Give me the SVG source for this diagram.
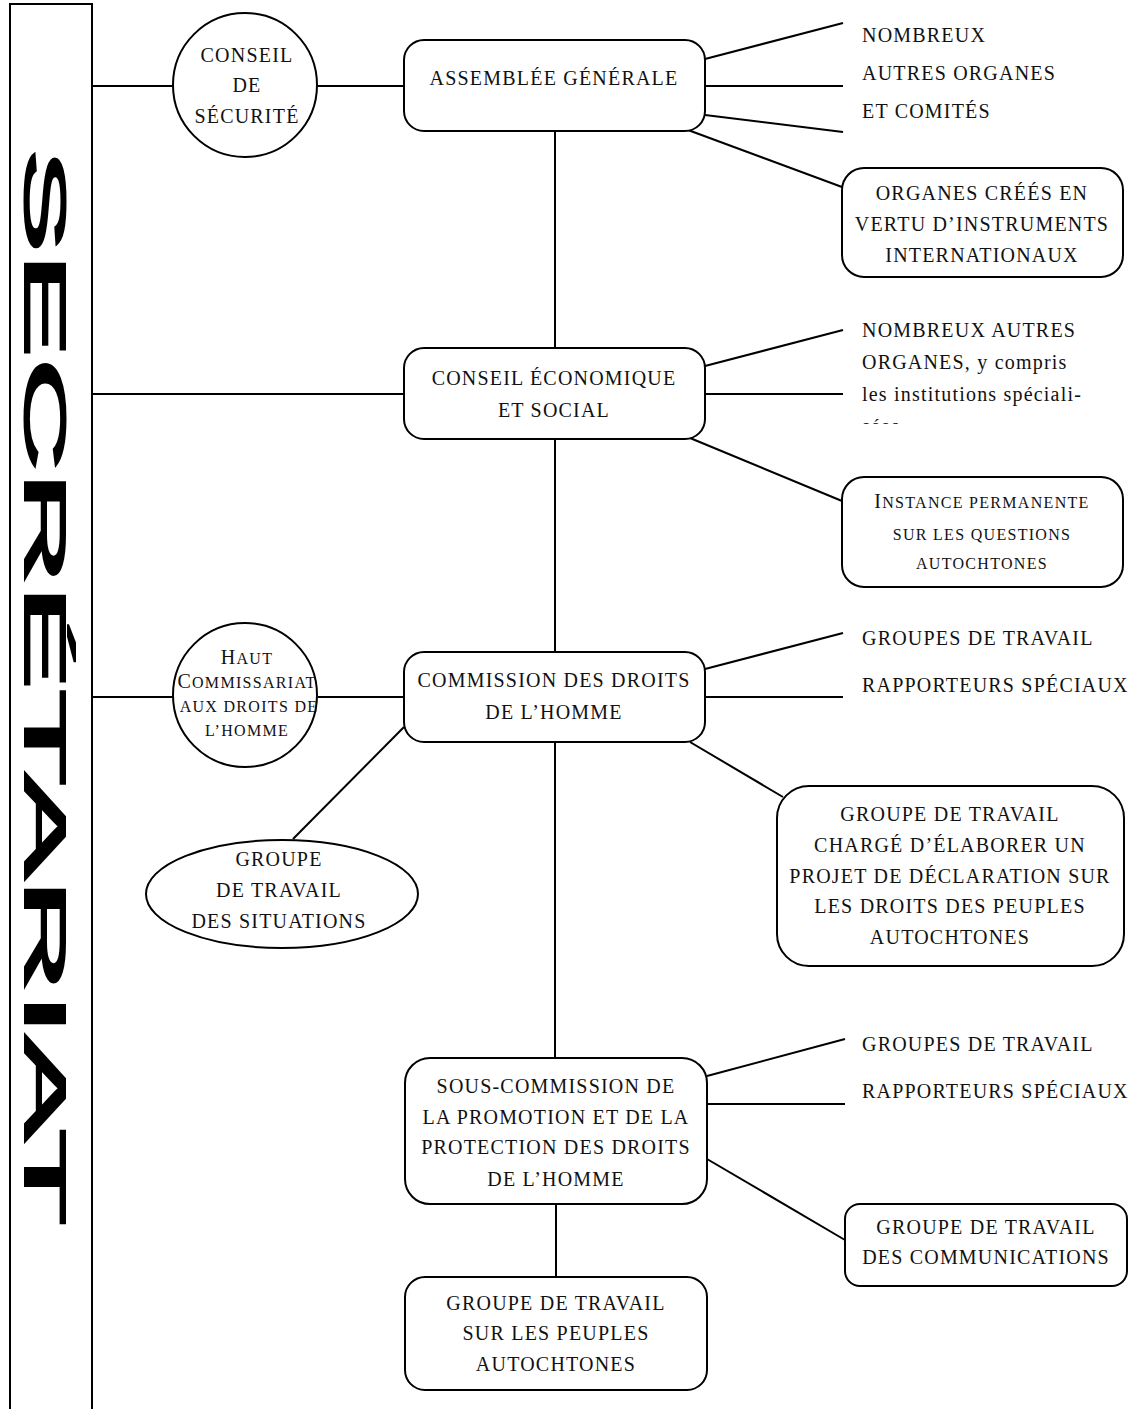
<svg xmlns="http://www.w3.org/2000/svg" width="1144" height="1409" viewBox="0 0 1144 1409">
<defs>
<style>
.box{fill:#fff;stroke:#000;stroke-width:2}
.ln{stroke:#000;stroke-width:2;fill:none}
.t{font-family:"Liberation Serif","Times New Roman",serif;font-size:20px;letter-spacing:1.2px;fill:#111}
.c{text-anchor:middle}
.sc{font-size:16px;letter-spacing:1.3px}
.big{font-family:"Liberation Sans",Arial,sans-serif;font-weight:normal;font-size:57px;fill:#000;stroke:#000;stroke-width:2;stroke-linejoin:miter}
</style>
<clipPath id="clipSees"><rect x="850" y="400" width="294" height="24"/></clipPath>
</defs>
<rect width="1144" height="1409" fill="#fff"/>

<g id="connectors" class="ln">
<line x1="92" y1="86" x2="173" y2="86"/>
<line x1="318" y1="86" x2="405" y2="86"/>
<line x1="705" y1="59" x2="843" y2="23"/>
<line x1="705" y1="86" x2="843" y2="86"/>
<line x1="705" y1="115" x2="843" y2="132"/>
<line x1="688" y1="130" x2="842" y2="187"/>
<line x1="555" y1="131" x2="555" y2="348"/>
<line x1="92" y1="394" x2="404" y2="394"/>
<line x1="705" y1="366" x2="843" y2="330"/>
<line x1="705" y1="394" x2="843" y2="394"/>
<line x1="690" y1="438" x2="842" y2="501"/>
<line x1="555" y1="439" x2="555" y2="652"/>
<line x1="92" y1="697" x2="173" y2="697"/>
<line x1="318" y1="697" x2="405" y2="697"/>
<line x1="705" y1="669" x2="843" y2="633"/>
<line x1="705" y1="697" x2="843" y2="697"/>
<line x1="690" y1="742" x2="783" y2="797"/>
<line x1="404" y1="727" x2="293" y2="839"/>
<line x1="555" y1="742" x2="555" y2="1058"/>
<line x1="707" y1="1076" x2="845" y2="1039"/>
<line x1="707" y1="1104" x2="845" y2="1104"/>
<line x1="707" y1="1159" x2="845" y2="1240"/>
<line x1="556" y1="1204" x2="556" y2="1277"/>
</g>

<g id="secretariat">
<path class="ln" d="M10,1409 V4 H92 V1409"/>
<text class="big" transform="translate(25,148) rotate(90)" textLength="1077" lengthAdjust="spacingAndGlyphs">SECRÉTARIAT</text>
</g>

<g id="conseil-securite">
<circle class="box" cx="245" cy="85" r="72"/>
<text class="t c" x="247" y="62">CONSEIL</text>
<text class="t c" x="247" y="92">DE</text>
<text class="t c" x="247" y="123">SÉCURITÉ</text>
</g>

<g id="assemblee">
<rect class="box" x="404" y="40" width="301" height="91" rx="20"/>
<text class="t c" x="554" y="85">ASSEMBLÉE GÉNÉRALE</text>
</g>

<g id="ag-autres">
<text class="t" x="862" y="42">NOMBREUX</text>
<text class="t" x="862" y="80">AUTRES ORGANES</text>
<text class="t" x="862" y="118">ET COMITÉS</text>
</g>

<g id="organes-crees">
<rect class="box" x="842" y="168" width="281" height="109" rx="22"/>
<text class="t c" x="982" y="200">ORGANES CRÉÉS EN</text>
<text class="t c" x="982" y="231">VERTU D’INSTRUMENTS</text>
<text class="t c" x="982" y="262">INTERNATIONAUX</text>
</g>

<g id="ecosoc">
<rect class="box" x="404" y="348" width="301" height="91" rx="20"/>
<text class="t c" x="554" y="385">CONSEIL ÉCONOMIQUE</text>
<text class="t c" x="554" y="417">ET SOCIAL</text>
</g>

<g id="ecosoc-autres">
<text class="t" x="862" y="337">NOMBREUX AUTRES</text>
<text class="t" x="862" y="369">ORGANES, y compris</text>
<text class="t" x="862" y="401">les institutions spéciali-</text>
<text class="t" x="862" y="433" clip-path="url(#clipSees)">sées</text>
</g>

<g id="instance-permanente">
<rect class="box" x="842" y="477" width="281" height="110" rx="22"/>
<text class="t c" x="982" y="508">I<tspan class="sc">NSTANCE PERMANENTE</tspan></text>
<text class="t c sc" x="982" y="540">SUR LES QUESTIONS</text>
<text class="t c sc" x="982" y="569">AUTOCHTONES</text>
</g>

<g id="haut-commissariat">
<circle class="box" cx="245" cy="695" r="72"/>
<text class="t c" x="247" y="664">H<tspan class="sc">AUT</tspan></text>
<text class="t c" x="247" y="688">C<tspan class="sc">OMMISSARIAT</tspan></text>
<text class="t c sc" x="249" y="712">AUX DROITS DE</text>
<text class="t c sc" x="247" y="736">L’HOMME</text>
</g>

<g id="commission">
<rect class="box" x="404" y="652" width="301" height="90" rx="20"/>
<text class="t c" x="554" y="687">COMMISSION DES DROITS</text>
<text class="t c" x="554" y="719">DE L’HOMME</text>
</g>

<g id="cdh-autres">
<text class="t" x="862" y="645">GROUPES DE TRAVAIL</text>
<text class="t" x="862" y="692">RAPPORTEURS SPÉCIAUX</text>
</g>

<g id="groupe-situations">
<ellipse class="box" cx="282" cy="894" rx="136" ry="54"/>
<text class="t c" x="279" y="866">GROUPE</text>
<text class="t c" x="279" y="897">DE TRAVAIL</text>
<text class="t c" x="279" y="928">DES SITUATIONS</text>
</g>

<g id="groupe-declaration">
<rect class="box" x="777" y="786" width="347" height="180" rx="32"/>
<text class="t c" x="950" y="821">GROUPE DE TRAVAIL</text>
<text class="t c" x="950" y="852">CHARGÉ D’ÉLABORER UN</text>
<text class="t c" x="950" y="883">PROJET DE DÉCLARATION SUR</text>
<text class="t c" x="950" y="913">LES DROITS DES PEUPLES</text>
<text class="t c" x="950" y="944">AUTOCHTONES</text>
</g>

<g id="sous-commission">
<rect class="box" x="405" y="1058" width="302" height="146" rx="25"/>
<text class="t c" x="556" y="1093">SOUS-COMMISSION DE</text>
<text class="t c" x="556" y="1124">LA PROMOTION ET DE LA</text>
<text class="t c" x="556" y="1154">PROTECTION DES DROITS</text>
<text class="t c" x="556" y="1186">DE L’HOMME</text>
</g>

<g id="sc-autres">
<text class="t" x="862" y="1051">GROUPES DE TRAVAIL</text>
<text class="t" x="862" y="1098">RAPPORTEURS SPÉCIAUX</text>
</g>

<g id="groupe-communications">
<rect class="box" x="845" y="1204" width="282" height="82" rx="15"/>
<text class="t c" x="986" y="1234">GROUPE DE TRAVAIL</text>
<text class="t c" x="986" y="1264">DES COMMUNICATIONS</text>
</g>

<g id="groupe-peuples">
<rect class="box" x="405" y="1277" width="302" height="113" rx="20"/>
<text class="t c" x="556" y="1310">GROUPE DE TRAVAIL</text>
<text class="t c" x="556" y="1340">SUR LES PEUPLES</text>
<text class="t c" x="556" y="1371">AUTOCHTONES</text>
</g>
</svg>
